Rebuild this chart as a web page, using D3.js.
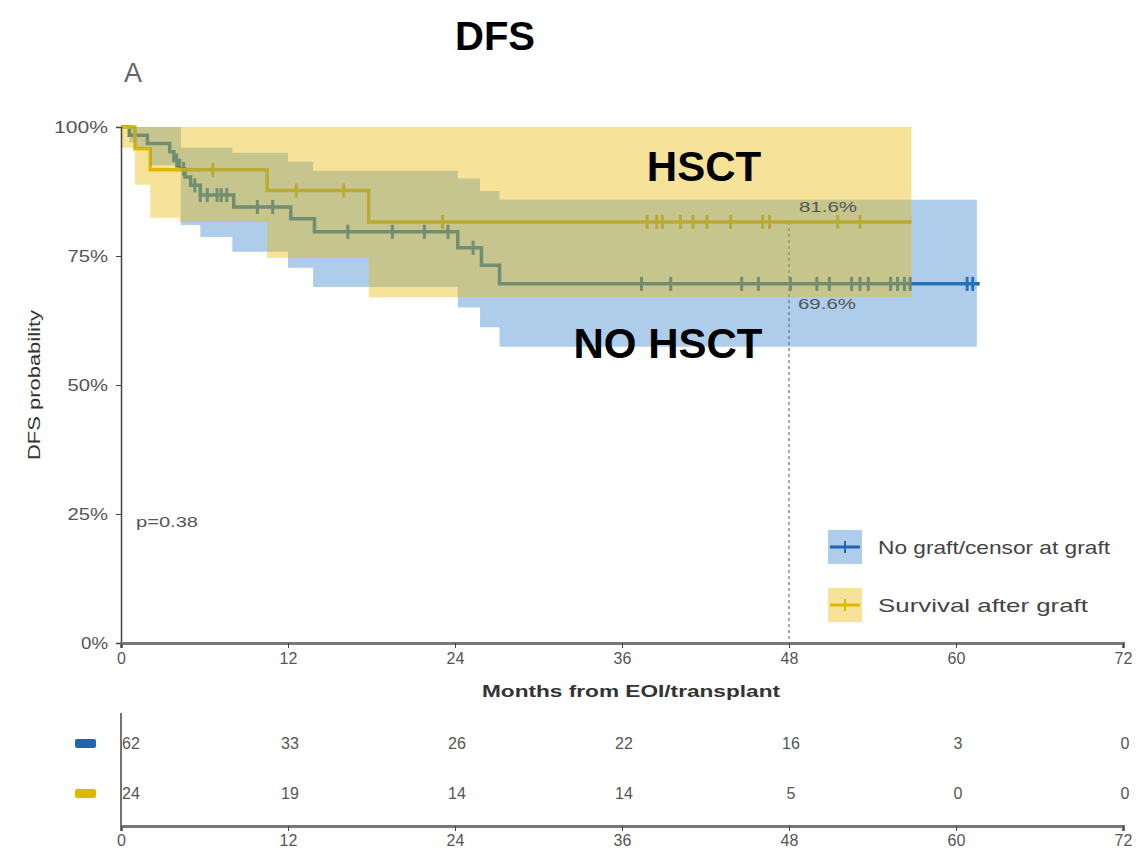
<!DOCTYPE html>
<html>
    <head>
        <meta charset="utf-8">
        <title>DFS</title>
        <style>
            html, body {
                margin: 0px;
                padding: 0px;
                background-color: #fff;
                font-family: "Liberation Sans", Arial, sans-serif;
            }

            svg text {
                fill: #555;
            }

            .axis text {
                font-size: 16px;
                fill: #555;
            }

            .axis .domain {
                stroke: #444;
                stroke-width: 1.5px;
            }

            .axis line {
                stroke: #444;
            }

            .bottomAxis .domain {
                stroke: #777;
                stroke-width: 3px;
            }

            .big {
                font-weight: bold;
                fill: #000;
            }
        </style>
        <script src="https://cdn.jsdelivr.net/npm/d3@7"></script>
    </head>
    <body>
        <div id="main"></div>

        <script>
            // Kaplan-Meier curve: no graft / censor at graft (blue)
            var noGraftTimes = [0, 0.6, 1.9, 3.5, 3.8, 4.2, 4.6, 5.0, 5.7, 8.1, 12.2, 13.9, 24.2, 25.9, 27.2, 61.7];
            var noGraftSurv  = [100, 98.4, 96.8, 95.2, 93.5, 91.9, 90.3, 88.7, 86.8, 84.5, 82.2, 79.7, 76.6, 73.2, 69.6, 69.6];
            var noGraftCensor = [4.0, 4.5, 5.3, 5.7, 6.2, 6.9, 7.2, 7.6, 9.8, 10.9, 16.3, 19.5, 21.8, 23.5, 25.3,
                                 37.4, 39.5, 44.6, 45.8, 48.1, 50.0, 50.9, 52.5, 53.1, 53.7, 55.3, 55.8, 56.3, 56.7, 60.8, 61.2];
            var noGraftCiTimes = [0, 0.6, 1.0, 2.1, 4.3, 5.7, 8.0, 12.0, 13.8, 24.2, 25.8, 27.2, 61.5];
            var noGraftLower   = [100, 97, 96, 92.6, 81, 78.7, 75.8, 72.7, 69, 65, 61.2, 57.4, 57.4];
            var noGraftUpper   = [100, 100, 100, 100, 96, 96, 95, 93.3, 91.5, 90, 87.6, 85.9, 85.9];

            // survival after graft (yellow)
            var graftTimes = [0, 1.0, 2.1, 10.5, 17.8, 56.8];
            var graftSurv  = [100, 95.8, 91.7, 87.7, 81.6, 81.6];
            var graftCensor = [6.6, 12.6, 16.0, 23.1, 37.8, 38.5, 38.9, 40.2, 41.1, 42.1, 43.8, 46.1, 46.6, 51.5, 53.1];
            var graftCiTimes = [0, 1.0, 2.1, 4.2, 10.5, 17.8, 56.8];
            var graftLower   = [96, 88.8, 82.4, 81.6, 74.6, 67, 67];
            var graftUpper   = [100, 100, 100, 100, 100, 100, 100];

            // number at risk
            var riskTimes   = [0, 12, 24, 36, 48, 60, 72];
            var riskNoGraft = [62, 33, 26, 22, 16, 3, 0];
            var riskGraft   = [24, 19, 14, 14, 5, 0, 0];

            var yTicks = [0, 25, 50, 75, 100];
            var legendLabels = ["No graft/censor at graft", "Survival after graft"];

            var blue = "#1f66b0";
            var yellow = "#dcb800";
            var blueFill = "#3282cd";
            var yellowFill = "#e8b800";

            var width = 1141;
            var height = 860;

            function pairs(t, v) {
                return t.map(function(d, i) { return [d, v[i]]; });
            }

            function band(t, lo, hi) {
                return t.map(function(d, i) { return {t: d, lo: lo[i], hi: hi[i]}; });
            }

            function survAt(times, surv, t) {
                var i = d3.bisectRight(times, t) - 1;
                return surv[Math.max(0, i)];
            }

            // the picture is stretched sideways, so text gets a fixed length
            function stretch(sel, len) {
                sel.attr("textLength", len).attr("lengthAdjust", "spacingAndGlyphs");
            }

            function main() {
                var svg = d3.select("#main")
                            .append("svg")
                            .attr("width", width)
                            .attr("height", height);

                var x = d3.scaleLinear().domain([0, 72]).range([121, 1123]);
                var y = d3.scaleLinear().domain([0, 100]).range([643, 127]);

                var line = d3.line()
                    .x(function(d) { return x(d[0]); })
                    .y(function(d) { return y(d[1]); })
                    .curve(d3.curveStepAfter);

                var area = d3.area()
                    .x(function(d) { return x(d.t); })
                    .y0(function(d) { return y(d.lo); })
                    .y1(function(d) { return y(d.hi); })
                    .curve(d3.curveStepAfter);

                // titles
                svg.append("text").attr("class", "big")
                    .attr("x", 495).attr("y", 50)
                    .attr("text-anchor", "middle")
                    .style("font-size", "40px")
                    .text("DFS");

                svg.append("text")
                    .attr("x", 124).attr("y", 82)
                    .style("font-size", "27px")
                    .style("fill", "#666")
                    .text("A");

                // reference line at 48 months
                svg.append("line")
                    .attr("x1", x(48)).attr("x2", x(48))
                    .attr("y1", y(81.6)).attr("y2", y(0))
                    .attr("stroke", "#777")
                    .attr("stroke-width", 1.3)
                    .attr("stroke-dasharray", "3,3");

                // curves
                var curves = [
                    {times: noGraftTimes, surv: noGraftSurv, cens: noGraftCensor, color: blue},
                    {times: graftTimes, surv: graftSurv, cens: graftCensor, color: yellow}
                ];

                curves.forEach(function(c) {
                    svg.append("path")
                        .datum(pairs(c.times, c.surv))
                        .attr("fill", "none")
                        .attr("stroke", c.color)
                        .attr("stroke-width", 3.5)
                        .attr("d", line);

                    svg.append("g").selectAll("line")
                        .data(c.cens)
                        .enter()
                        .append("line")
                        .attr("x1", function(d) { return x(d); })
                        .attr("x2", function(d) { return x(d); })
                        .attr("y1", function(d) { return y(survAt(c.times, c.surv, d)) - 7; })
                        .attr("y2", function(d) { return y(survAt(c.times, c.surv, d)) + 7; })
                        .attr("stroke", c.color)
                        .attr("stroke-width", 3);
                });

                // confidence bands on top, translucent
                svg.append("path")
                    .datum(band(noGraftCiTimes, noGraftLower, noGraftUpper))
                    .attr("fill", blueFill)
                    .attr("fill-opacity", 0.4)
                    .attr("d", area);

                svg.append("path")
                    .datum(band(graftCiTimes, graftLower, graftUpper))
                    .attr("fill", yellowFill)
                    .attr("fill-opacity", 0.4)
                    .attr("d", area);

                // axes
                var yAxis = svg.append("g")
                    .attr("class", "axis")
                    .attr("transform", "translate(" + x(0) + ",0)")
                    .call(d3.axisLeft(y).tickValues(yTicks).tickSize(5).tickPadding(8)
                        .tickFormat(function(d) { return d + "%"; }));
                yAxis.selectAll("text").each(function(d) {
                    stretch(d3.select(this), (d + "%").length * 13.5);
                });

                svg.append("g")
                    .attr("class", "axis bottomAxis")
                    .attr("transform", "translate(0," + y(0) + ")")
                    .call(d3.axisBottom(x).tickValues(riskTimes).tickSize(5).tickPadding(5));

                svg.append("text")
                    .attr("transform", "translate(40," + y(50) + ") rotate(-90)")
                    .attr("text-anchor", "middle")
                    .style("font-size", "17px")
                    .style("fill", "#333")
                    .text("DFS probability")
                    .call(stretch, 150);

                svg.append("text")
                    .attr("x", 631).attr("y", 697)
                    .attr("text-anchor", "middle")
                    .style("font-size", "17px")
                    .style("font-weight", "bold")
                    .style("fill", "#333")
                    .text("Months from EOI/transplant")
                    .call(stretch, 298);

                // annotations
                svg.append("text")
                    .attr("x", x(48) + 10).attr("y", y(81.6) - 10)
                    .style("font-size", "15px")
                    .text("81.6%")
                    .call(stretch, 58);

                svg.append("text")
                    .attr("x", x(48) + 9).attr("y", y(69.6) + 25)
                    .style("font-size", "15px")
                    .text("69.6%")
                    .call(stretch, 58);

                svg.append("text")
                    .attr("x", 136).attr("y", 527)
                    .style("font-size", "15px")
                    .text("p=0.38")
                    .call(stretch, 62);

                svg.append("text").attr("class", "big")
                    .attr("x", 704).attr("y", 181)
                    .attr("text-anchor", "middle")
                    .style("font-size", "42px")
                    .text("HSCT");

                svg.append("text").attr("class", "big")
                    .attr("x", 668).attr("y", 358)
                    .attr("text-anchor", "middle")
                    .style("font-size", "42px")
                    .text("NO HSCT");

                // legend
                var legend = svg.append("g")
                    .selectAll("g")
                    .data([
                        {label: legendLabels[0], color: blue, fill: blueFill, len: 232},
                        {label: legendLabels[1], color: yellow, fill: yellowFill, len: 210}
                    ])
                    .enter()
                    .append("g")
                    .attr("transform", function(d, i) { return "translate(828," + (530 + i * 58) + ")"; });

                legend.append("rect")
                    .attr("width", 34).attr("height", 34)
                    .attr("fill", function(d) { return d.fill; })
                    .attr("fill-opacity", 0.4);

                legend.append("line")
                    .attr("x1", 2).attr("x2", 32).attr("y1", 17).attr("y2", 17)
                    .attr("stroke", function(d) { return d.color; })
                    .attr("stroke-width", 3);

                legend.append("line")
                    .attr("x1", 17).attr("x2", 17).attr("y1", 11).attr("y2", 23)
                    .attr("stroke", function(d) { return d.color; })
                    .attr("stroke-width", 2);

                legend.append("text")
                    .attr("x", 50).attr("y", 24)
                    .style("font-size", "19px")
                    .style("fill", "#444")
                    .attr("textLength", function(d) { return d.len; })
                    .attr("lengthAdjust", "spacingAndGlyphs")
                    .text(function(d) { return d.label; });

                // risk table
                var rows = [
                    {values: riskNoGraft, color: blue},
                    {values: riskGraft, color: yellow}
                ];
                var ry = d3.scalePoint().domain([0, 1]).range([743, 793]);

                var row = svg.append("g")
                    .selectAll("g")
                    .data(rows)
                    .enter()
                    .append("g")
                    .attr("transform", function(d, i) { return "translate(0," + ry(i) + ")"; });

                row.append("rect")
                    .attr("x", 75).attr("y", -4)
                    .attr("width", 21).attr("height", 9)
                    .attr("rx", 2)
                    .attr("fill", function(d) { return d.color; });

                row.selectAll("text")
                    .data(function(d) { return d.values; })
                    .enter()
                    .append("text")
                    .attr("x", function(d, i) { return x(riskTimes[i]) + (i === 0 ? 10 : 2); })
                    .attr("y", 6)
                    .attr("text-anchor", "middle")
                    .style("font-size", "16px")
                    .text(function(d) { return d; });

                svg.append("line")
                    .attr("x1", x(0)).attr("x2", x(0))
                    .attr("y1", 713).attr("y2", 826)
                    .attr("stroke", "#444")
                    .attr("stroke-width", 1.5);

                svg.append("g")
                    .attr("class", "axis bottomAxis")
                    .attr("transform", "translate(0,826)")
                    .call(d3.axisBottom(x).tickValues(riskTimes).tickSize(5).tickPadding(4));
            }

            main();
        </script>
    </body>
</html>
